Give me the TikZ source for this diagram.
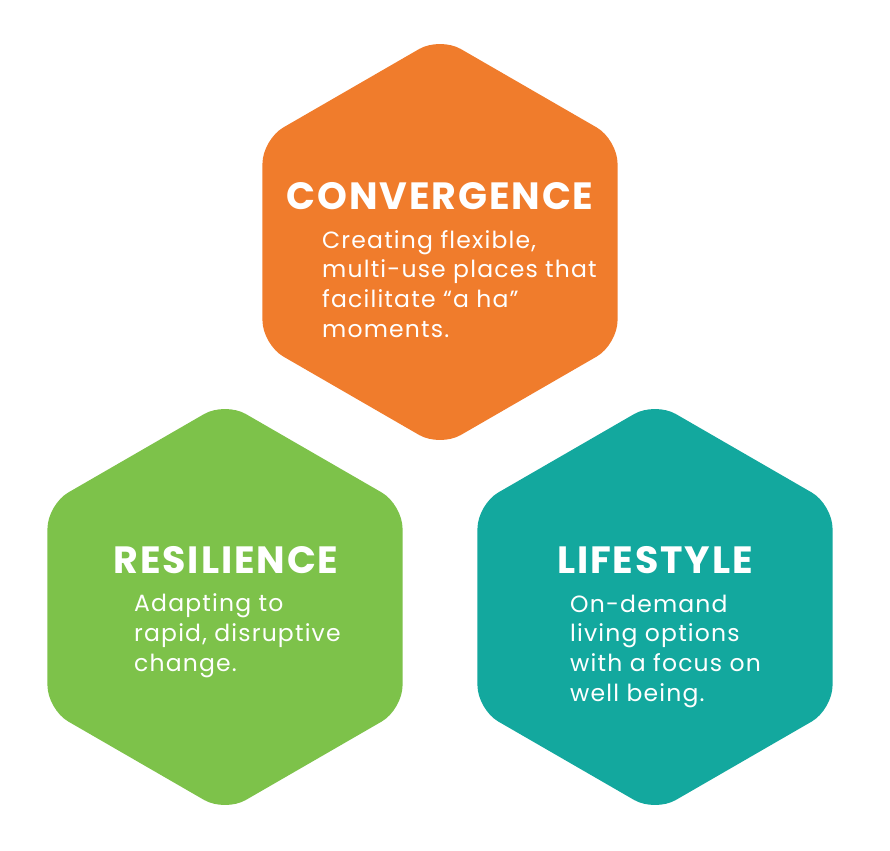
\documentclass[tikz,border=0pt]{standalone}
\usepackage{fontspec}
\setmainfont{Poppins}
\newfontfamily\headfont{Poppins}[LetterSpace=5]
\newfontfamily\bodyfont{Poppins}[LetterSpace=5]
\usetikzlibrary{calc}

\definecolor{convorange}{HTML}{F07C2C}
\definecolor{resgreen}{HTML}{7DC24A}
\definecolor{lifeteal}{HTML}{13A89E}

\tikzset{
  hexfill/.style={rounded corners=24pt},
  headtxt/.style={text=white, font=\headfont\bfseries\fontsize{38}{38}\selectfont, anchor=base, inner sep=0pt},
  bodytxt/.style={text=white, font=\bodyfont\fontsize{23.5}{29.6}\selectfont, align=left, anchor=base west, inner sep=0pt}
}

\begin{document}
\begin{tikzpicture}[x=1pt,y=-1pt]
\useasboundingbox (0,0) rectangle (890,850);
\coordinate (conv) at (440,242); \coordinate (res) at (225,607); \coordinate (life) at (655,607);
% hexagons
\fill[hexfill,convorange] ($(conv)+(90:205)$) \foreach \a in {150,210,270,330,30} {-- ($(conv)+(\a:205)$)} -- cycle;
\fill[hexfill,resgreen] ($(res)+(90:205)$) \foreach \a in {150,210,270,330,30} {-- ($(res)+(\a:205)$)} -- cycle;
\fill[hexfill,lifeteal] ($(life)+(90:205)$) \foreach \a in {150,210,270,330,30} {-- ($(life)+(\a:205)$)} -- cycle;
% titles
\node[headtxt] (convT) at (440,210) {CONVERGENCE};
\node[headtxt] (resT) at (226,573) {RESILIENCE};
\node[headtxt] (lifeT) at (655,573) {LIFESTYLE};
% texts (anchored at the last baseline)
\node[bodytxt] (convB) at (322,337) {Creating flexible,\\multi-use places that\\facilitate “a ha”\\moments.};
\node[bodytxt] (resB) at (134,671) {Adapting to\\rapid, disruptive\\change.};
\node[bodytxt] (lifeB) at (570,701) {On-demand\\living options\\with a focus on\\well being.};
\end{tikzpicture}
\end{document}
